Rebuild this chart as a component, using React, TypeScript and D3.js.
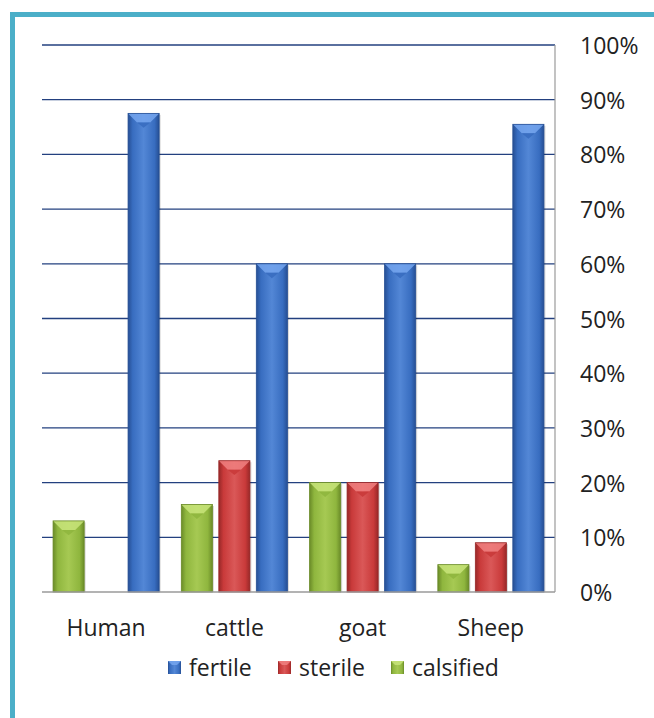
import React from "react";
import * as d3 from "d3";

const categories = ["Human", "cattle", "goat", "Sheep"];
const seriesOrder = ["calsified", "sterile", "fertile"];
const legendOrder = ["fertile", "sterile", "calsified"];
const fertile = [87.5, 60, 60, 85.5];
const sterile = [0, 24, 20, 9];
const calsified = [13, 16, 20, 5];
const ticks = [0, 10, 20, 30, 40, 50, 60, 70, 80, 90, 100];

const valuesBySeries: Record<string, number[]> = { fertile, sterile, calsified };

const palette: Record<string, { mid: string; dark: string; light: string; top: string }> = {
  fertile: { mid: "#386dc0", dark: "#264f94", light: "#5387d6", top: "#76a6ee" },
  sterile: { mid: "#c93a3a", dark: "#982828", light: "#da5858", top: "#f08080" },
  calsified: { mid: "#8fb63e", dark: "#6a8b28", light: "#a6c953", top: "#c8e47a" },
};

const W = 654;
const H = 718;
const left = 42;
const right = 555;
const top = 45;
const bottom = 592;
const font = "'Open Sans', 'Liberation Sans', sans-serif";
const fs = 23;

export default function App() {
  const x0 = d3.scaleBand<string>().domain(categories).range([left, right]).paddingInner(0.123).paddingOuter(0.0614);
  const x1 = d3.scaleBand<string>().domain(seriesOrder).range([0, x0.bandwidth()]).paddingInner(0.17).paddingOuter(0.085);
  const y = d3.scaleLinear().domain([0, 100]).range([bottom, top]);

  const bars: React.ReactNode[] = [];
  categories.forEach((c, ci) => {
    seriesOrder.forEach((s) => {
      const v = valuesBySeries[s][ci];
      if (!v) return;
      const bx = (x0(c) as number) + (x1(s) as number);
      const bw = x1.bandwidth();
      const by = y(v);
      const bh = y(0) - by;
      const b = Math.min(9, bh / 2);
      const p = palette[s];
      bars.push(
        <g key={c + s}>
          <rect x={bx + 1.5} y={by + 1.5} width={bw} height={bh - 1.5} fill="#000" opacity={0.15} />
          <rect x={bx} y={by} width={bw} height={bh} fill={`url(#g-${s})`} />
          <polygon
            points={`${bx},${by} ${bx + bw},${by} ${bx + bw - b},${by + b} ${bx + b},${by + b}`}
            fill={p.top}
            opacity={0.85}
          />
          <polygon
            points={`${bx + b},${by + b} ${bx + bw - b},${by + b} ${bx + bw / 2},${by + b * 1.6}`}
            fill={p.mid}
            opacity={0.9}
          />
          <rect x={bx} y={by} width={bw} height={bh} fill="none" stroke={p.dark} strokeWidth={0.8} />
        </g>
      );
    });
  });

  const legendX = [168, 278, 391];

  return (
    <svg width={W} height={H} style={{ position: "absolute", left: 0, top: 0 }} xmlns="http://www.w3.org/2000/svg">
      <defs>
        {seriesOrder.map((s) => (
          <linearGradient key={s} id={`g-${s}`} x1="0" x2="1" y1="0" y2="0">
            <stop offset="0" stopColor={palette[s].dark} />
            <stop offset="0.15" stopColor={palette[s].mid} />
            <stop offset="0.5" stopColor={palette[s].light} />
            <stop offset="0.85" stopColor={palette[s].mid} />
            <stop offset="1" stopColor={palette[s].dark} />
          </linearGradient>
        ))}
      </defs>
      <rect x={0} y={0} width={W} height={H} fill="#fff" />
      <rect x={12.5} y={14.5} width={W + 20} height={H + 20} fill="none" stroke="#4bafc8" strokeWidth={5} />

      {ticks.filter((t) => t > 0).map((t) => (
        <line key={t} x1={left} x2={right} y1={y(t)} y2={y(t)} stroke="#23407f" strokeWidth={1.3} />
      ))}
      <line x1={right} x2={right} y1={top} y2={bottom} stroke="#9a9a9a" strokeWidth={1.2} />

      {bars}

      <line x1={left} x2={right} y1={bottom} y2={bottom} stroke="#9a9a9a" strokeWidth={1.5} />

      {ticks.map((t) => (
        <text key={t} x={580} y={y(t)} dominantBaseline="central" fontFamily={font} fontSize={fs} fill="#222">
          {t}%
        </text>
      ))}

      {categories.map((c) => (
        <text
          key={c}
          x={(x0(c) as number) + x0.bandwidth() / 2}
          y={636}
          textAnchor="middle"
          fontFamily={font}
          fontSize={fs}
          fill="#222"
        >
          {c}
        </text>
      ))}

      {legendOrder.map((s, i) => (
        <g key={s} transform={`translate(${legendX[i]},661)`}>
          <rect x={0} y={0} width={13} height={13} fill={`url(#g-${s})`} />
          <polygon points="0,0 13,0 9,4 4,4" fill={palette[s].top} opacity={0.85} />
          <text x={21} y={6} dominantBaseline="central" fontFamily={font} fontSize={fs} fill="#222">
            {s}
          </text>
        </g>
      ))}
    </svg>
  );
}
